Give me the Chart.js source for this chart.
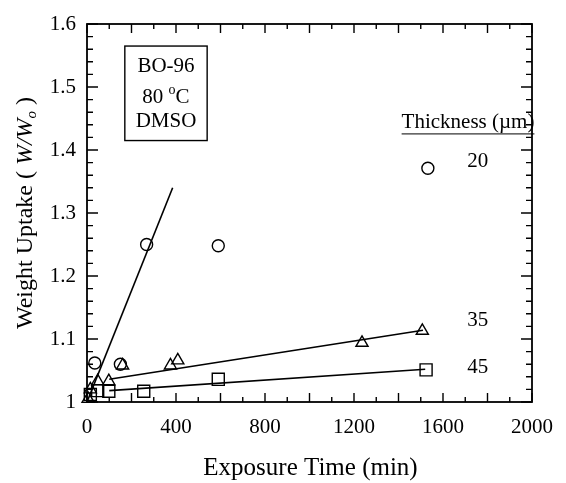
<!DOCTYPE html>
<html>
<head>
<meta charset="utf-8">
<script src="https://cdn.jsdelivr.net/npm/chart.js@4/dist/chart.umd.min.js"></script>
<style>
    html, body { margin: 0; padding: 0; background: #fff; }
</style>
</head>
<body>
<canvas id="chart" width="566" height="483"></canvas>
<script>
// 20 um film (circles)
const time20 = [35, 150, 268, 590, 1532];
const uptake20 = [1.062, 1.060, 1.250, 1.248, 1.371];
// 35 um film (triangles)
const time35 = [5, 15, 48, 98, 160, 375, 408, 1236, 1507];
const uptake35 = [1.005, 1.020, 1.033, 1.033, 1.058, 1.058, 1.066, 1.094, 1.113];
// 45 um film (squares)
const time45 = [15, 48, 98, 255, 590, 1524];
const uptake45 = [1.012, 1.018, 1.017, 1.017, 1.036, 1.051];

// fitted lines
const fitTime20 = [0, 385];
const fitUptake20 = [1.0, 1.34];
const fitTime35 = [100, 1510];
const fitUptake35 = [1.036, 1.114];
const fitTime45 = [100, 1520];
const fitUptake45 = [1.018, 1.052];

const xTicks = [0, 400, 800, 1200, 1600, 2000];
const yTicks = [1, 1.1, 1.2, 1.3, 1.4, 1.5, 1.6];

const SERIF = '"Liberation Serif", "Times New Roman", serif';

function toPoints(xs, ys) {
    return xs.map((x, i) => ({ x, y: ys[i] }));
}

function markerSet(label, xs, ys, style, radius) {
    return {
        label,
        data: toPoints(xs, ys),
        showLine: false,
        pointStyle: style,
        pointRadius: radius,
        pointBackgroundColor: 'rgba(255, 255, 255, 0)',
        pointBorderColor: '#000',
        pointBorderWidth: 1.4,
        clip: false,
    };
}

function fitSet(xs, ys) {
    return {
        data: toPoints(xs, ys),
        showLine: true,
        borderColor: '#000',
        borderWidth: 1.6,
        pointRadius: 0,
        fill: false,
    };
}

// inner ticks on all four sides plus the frame
const frameTicks = {
    id: 'frameTicks',
    afterDraw(chart) {
        const { ctx, chartArea: a, scales: { x, y } } = chart;
        ctx.save();
        ctx.strokeStyle = '#000';
        ctx.lineWidth = 1.4;
        ctx.beginPath();
        for (let v = 0; v <= 2000; v += 100) {
            const px = x.getPixelForValue(v);
            const len = v % 200 === 0 ? 9 : 5;
            ctx.moveTo(px, a.bottom);
            ctx.lineTo(px, a.bottom - len);
            ctx.moveTo(px, a.top);
            ctx.lineTo(px, a.top + len);
        }
        for (let i = 0; i <= 30; i++) {
            const py = y.getPixelForValue(1 + i * 0.02);
            const len = i % 5 === 0 ? 11 : 6;
            ctx.moveTo(a.left, py);
            ctx.lineTo(a.left + len, py);
            ctx.moveTo(a.right, py);
            ctx.lineTo(a.right - len, py);
        }
        ctx.stroke();
        ctx.lineWidth = 1.8;
        ctx.strokeRect(a.left, a.top, a.right - a.left, a.bottom - a.top);
        ctx.restore();
    },
};

// labels, info box and axis titles
const annotations = {
    id: 'annotations',
    afterDraw(chart) {
        const { ctx, chartArea: a, scales: { x, y } } = chart;
        ctx.save();
        ctx.fillStyle = '#000';
        ctx.strokeStyle = '#000';
        ctx.textBaseline = 'middle';

        // info box
        const bx0 = x.getPixelForValue(170), bx1 = x.getPixelForValue(540);
        const by0 = y.getPixelForValue(1.565), by1 = y.getPixelForValue(1.415);
        ctx.lineWidth = 1.4;
        ctx.strokeRect(bx0, by0, bx1 - bx0, by1 - by0);
        const cx = (bx0 + bx1) / 2;
        ctx.font = `21px ${SERIF}`;
        ctx.textAlign = 'center';
        ctx.fillText('BO-96', cx, y.getPixelForValue(1.533));
        ctx.fillText('DMSO', cx, y.getPixelForValue(1.445));
        const ty = y.getPixelForValue(1.483);
        const w80 = ctx.measureText('80 ').width;
        const wC = ctx.measureText('C').width;
        ctx.font = `14px ${SERIF}`;
        const wo = ctx.measureText('o').width;
        let sx = cx - (w80 + wo + wC) / 2;
        ctx.textAlign = 'left';
        ctx.font = `21px ${SERIF}`;
        ctx.fillText('80 ', sx, ty);
        ctx.font = `14px ${SERIF}`;
        ctx.fillText('o', sx + w80, ty - 7);
        ctx.font = `21px ${SERIF}`;
        ctx.fillText('C', sx + w80 + wo, ty);

        // thickness legend
        ctx.font = `21px ${SERIF}`;
        const lx = x.getPixelForValue(1414);
        const ly = y.getPixelForValue(1.443);
        ctx.fillText('Thickness (\u00b5m)', lx, ly);
        const lw = ctx.measureText('Thickness (\u00b5m)').width;
        ctx.lineWidth = 1;
        ctx.beginPath();
        ctx.moveTo(lx, ly + 11);
        ctx.lineTo(lx + lw, ly + 11);
        ctx.stroke();
        ctx.textAlign = 'center';
        const nx = x.getPixelForValue(1756);
        ctx.fillText('20', nx, y.getPixelForValue(1.382));
        ctx.fillText('35', nx, y.getPixelForValue(1.130));
        ctx.fillText('45', nx, y.getPixelForValue(1.054));

        // x title
        ctx.font = `25px ${SERIF}`;
        ctx.fillText('Exposure Time (min)', (a.left + a.right) / 2 + 1, 468);

        // y title
        ctx.translate(26, (a.top + a.bottom) / 2);
        ctx.rotate(-Math.PI / 2);
        const parts = [
            ['Weight Uptake ( ', `24px ${SERIF}`, 0],
            ['W/W', `italic 24px ${SERIF}`, 0],
            ['o', `italic 15px ${SERIF}`, 6],
            [' )', `24px ${SERIF}`, 0],
        ];
        let total = 0;
        parts.forEach(([t, f]) => { ctx.font = f; total += ctx.measureText(t).width; });
        let px = -total / 2;
        ctx.textAlign = 'left';
        parts.forEach(([t, f, dy]) => {
            ctx.font = f;
            ctx.fillText(t, px, dy);
            px += ctx.measureText(t).width;
        });
        ctx.restore();
    },
};

new Chart(document.getElementById('chart'), {
    type: 'scatter',
    data: {
        datasets: [
            fitSet(fitTime20, fitUptake20),
            fitSet(fitTime35, fitUptake35),
            fitSet(fitTime45, fitUptake45),
            markerSet('20', time20, uptake20, 'circle', 6),
            markerSet('35', time35, uptake35, 'triangle', 7),
            markerSet('45', time45, uptake45, 'rect', 8.5),
        ],
    },
    options: {
        responsive: false,
        animation: false,
        layout: { padding: { top: 24, right: 20, left: 0, bottom: 0 } },
        plugins: {
            legend: { display: false },
            tooltip: { enabled: false },
        },
        scales: {
            x: {
                type: 'linear',
                min: 0,
                max: 2000,
                afterBuildTicks: (s) => { s.ticks = xTicks.map((value) => ({ value })); },
                afterFit: (s) => { s.height = 81; },
                grid: { display: false, drawTicks: false },
                border: { display: false },
                ticks: {
                    padding: 13,
                    color: '#000',
                    font: { family: SERIF, size: 21 },
                    maxRotation: 0,
                    callback: (v) => String(v),
                },
            },
            y: {
                type: 'linear',
                min: 1,
                max: 1.6,
                afterBuildTicks: (s) => { s.ticks = yTicks.map((value) => ({ value })); },
                afterFit: (s) => { s.width = 87; },
                grid: { display: false, drawTicks: false },
                border: { display: false },
                ticks: {
                    padding: 11,
                    color: '#000',
                    font: { family: SERIF, size: 21 },
                    callback: (v) => (v === 1 ? '1' : v.toFixed(1)),
                },
            },
        },
    },
    plugins: [frameTicks, annotations],
});
</script>
</body>
</html>
